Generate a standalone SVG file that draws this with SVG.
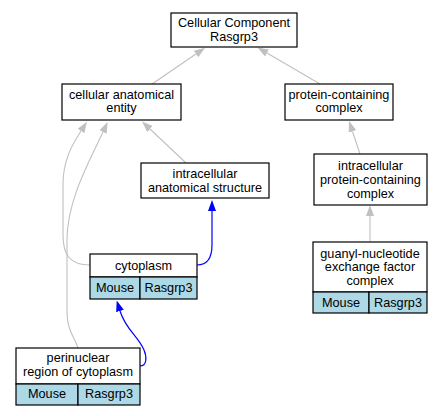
<svg xmlns="http://www.w3.org/2000/svg" width="443" height="416" viewBox="0 0 443 416">
<style>
text{font-family:"Liberation Sans",Arial,sans-serif;font-size:12.7px;text-anchor:middle;fill:#000}
.box{fill:#fff;stroke:#000;stroke-width:1.2}
.cell{fill:#add8e6;stroke:#000;stroke-width:1.2}
.g{fill:none;stroke:#c0c0c0;stroke-width:1.1}
.b{fill:none;stroke:#0000ff;stroke-width:1.2}
</style>
<defs>
<marker id="ag" viewBox="0 0 11 8" refX="0" refY="4" markerWidth="11" markerHeight="8" markerUnits="userSpaceOnUse" orient="auto"><path d="M0,0 L11,4 L0,8 z" fill="#c0c0c0"/></marker>
<marker id="ab" viewBox="0 0 11 8" refX="0" refY="4" markerWidth="11" markerHeight="8" markerUnits="userSpaceOnUse" orient="auto"><path d="M0,0 L11,4 L0,8 z" fill="#0000ff"/></marker>
</defs>
<g id="edges">
<path class="g" d="M152,84 L196,54" marker-end="url(#ag)"/>
<path class="g" d="M320,84 L267,53" marker-end="url(#ag)"/>
<path class="g" d="M186,163 L150,129" marker-end="url(#ag)"/>
<path class="g" d="M360,154 L352.5,131.5" marker-end="url(#ag)"/>
<path class="g" d="M370,242 L370,216" marker-end="url(#ag)"/>
<path class="g" d="M90,265 C70,265 63,255 63,235 L63,185 C63,160 72,145 81,131" marker-end="url(#ag)"/>
<path class="g" d="M78,348 C74,336 67,330 67,312 L67,240 C67,200 90,160 103,132" marker-end="url(#ag)"/>
<path class="b" d="M197,265 C207,265 212,258 212,245 L212,211" marker-end="url(#ab)"/>
<path class="b" d="M140,366 C147,366 147,357 144,350 C138,336 126,330 120,311" marker-end="url(#ab)"/>
</g>
<g id="root">
<rect class="box" x="171" y="13" width="126" height="34"/>
<text x="234" y="26.5">Cellular Component</text>
<text x="234" y="40.5">Rasgrp3</text>
</g>
<g id="cae">
<rect class="box" x="62" y="84" width="119" height="36"/>
<text x="121.5" y="98.5">cellular anatomical</text>
<text x="121.5" y="112">entity</text>
</g>
<g id="pcc">
<rect class="box" x="285" y="84" width="108" height="36"/>
<text x="339" y="98.5">protein-containing</text>
<text x="339" y="112">complex</text>
</g>
<g id="ias">
<rect class="box" x="141" y="163" width="128" height="35"/>
<text x="205" y="178">intracellular</text>
<text x="205" y="191.5">anatomical structure</text>
</g>
<g id="ipc">
<rect class="box" x="314" y="154" width="113" height="51"/>
<text x="370.5" y="169.5">intracellular</text>
<text x="370.5" y="183.5">protein-containing</text>
<text x="370.5" y="197.5">complex</text>
</g>
<g id="guanyl">
<rect class="box" x="313" y="242" width="114" height="50"/>
<rect class="cell" x="313" y="292" width="56" height="21"/>
<rect class="cell" x="369" y="292" width="58" height="21"/>
<text x="370" y="257.5">guanyl-nucleotide</text>
<text x="370" y="271">exchange factor</text>
<text x="370" y="284.5">complex</text>
<text x="341" y="306.5">Mouse</text>
<text x="398" y="306.5">Rasgrp3</text>
</g>
<g id="cytoplasm">
<rect class="box" x="90" y="254" width="107" height="23"/>
<rect class="cell" x="90" y="277" width="50" height="22"/>
<rect class="cell" x="140" y="277" width="57" height="22"/>
<text x="143.5" y="269.5">cytoplasm</text>
<text x="115" y="291.5">Mouse</text>
<text x="168.5" y="291.5">Rasgrp3</text>
</g>
<g id="perinuclear">
<rect class="box" x="16" y="348" width="124" height="36"/>
<rect class="cell" x="16" y="384" width="62" height="21"/>
<rect class="cell" x="78" y="384" width="62" height="21"/>
<text x="78" y="361.5">perinuclear</text>
<text x="78" y="375.5">region of cytoplasm</text>
<text x="47" y="398">Mouse</text>
<text x="109" y="398">Rasgrp3</text>
</g>
</svg>
